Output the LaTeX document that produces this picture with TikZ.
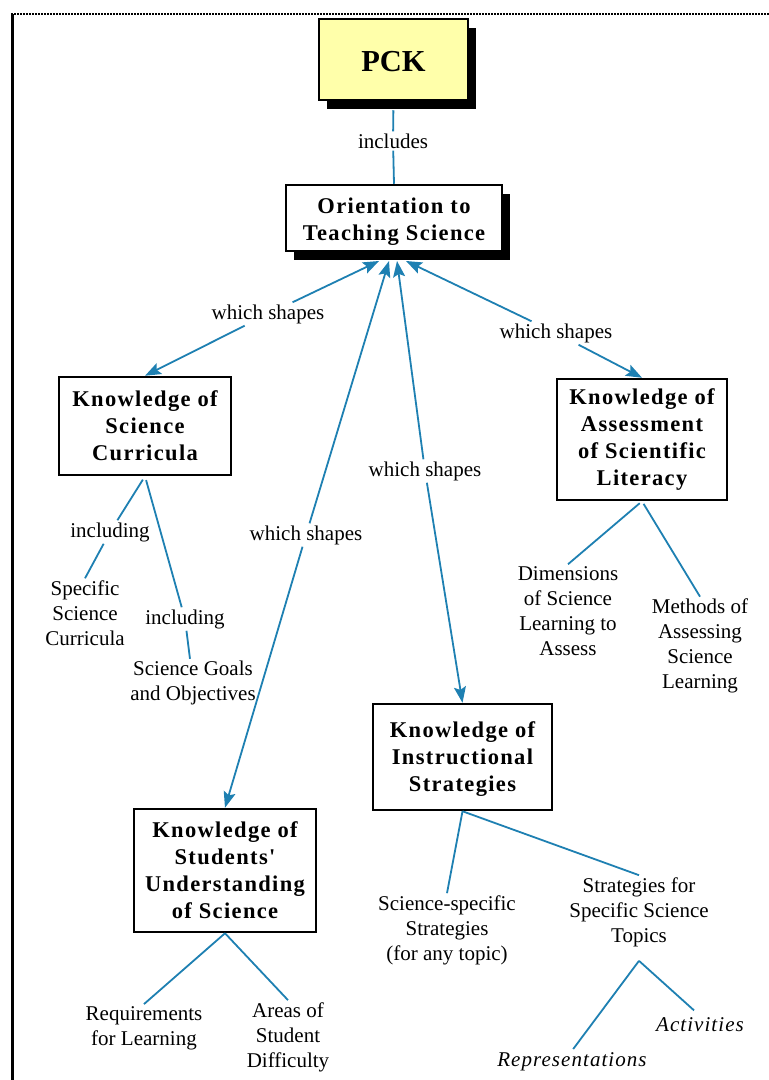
\documentclass[tikz,border=0pt]{standalone}
\usepackage{fontspec}
\setmainfont{Liberation Serif}
\newfontfamily\boxfont[LetterSpace=6]{Liberation Serif}
\newfontfamily\itfont[LetterSpace=5]{Liberation Serif}
\usetikzlibrary{arrows.meta,shadows,calc}
\definecolor{linkblue}{RGB}{30,128,178}
\definecolor{pckyellow}{RGB}{255,255,170}
\tikzset{
  conn/.style={draw=linkblue, line width=1.8pt},
  tip/.style={conn, -{Stealth[length=16pt,width=12pt,inset=3pt]}},
  concept/.style={draw=black, line width=2.5pt, fill=white, align=center, inner sep=0pt,
    font=\boxfont\bfseries\fontsize{22.5}{27}\selectfont},
  shade/.style={drop shadow={shadow xshift=8pt, shadow yshift=-9pt, fill=black, opacity=1}},
  lbl/.style={align=center, inner sep=2pt, font=\fontsize{21}{25}\selectfont},
  itl/.style={align=center, inner sep=2pt, font=\itfont\itshape\fontsize{21}{25}\selectfont}
}
\begin{document}
\begin{tikzpicture}[x=1pt,y=-1pt]
\useasboundingbox (0,0) rectangle (769,1080);
\fill[white] (0,0) rectangle (769,1080);
% frame
\draw[line width=2pt, densely dotted] (11,14) -- (769,14);
\draw[line width=3pt] (12,14) -- (12,1080);

% concepts
\node[concept, fill=pckyellow, minimum width=149pt, minimum height=81pt, shade,
  font=\bfseries\fontsize{30.5}{36}\selectfont] (pck) at (393.5,59.5) {\rule{0pt}{24pt}PCK};
\node[concept, minimum width=216pt, minimum height=66pt, shade] (orient) at (394,218)
  {\rule{0pt}{23pt}Orientation to\\Teaching Science};
\node[concept, minimum width=172pt, minimum height=98pt] (curr) at (145,426)
  {Knowledge of\\Science\\Curricula};
\node[concept, minimum width=170pt, minimum height=121pt] (assess) at (642,439.5)
  {Knowledge of\\Assessment\\of Scientific\\Literacy};
\node[concept, minimum width=182pt, minimum height=123pt] (stud) at (225,870.5)
  {Knowledge of\\Students'\\Understanding\\of Science};
\node[concept, minimum width=179pt, minimum height=106pt] (instr) at (462.5,757)
  {\rule{0pt}{20pt}Knowledge of\\Instructional\\Strategies};

% linking phrases
\node[lbl] (incl) at (393,141) {includes};
\node[lbl] (ws1) at (268,314) {which shapes};
\node[lbl] (ws2) at (556,333) {which shapes};
\node[lbl] (ws3) at (306,535) {which shapes};
\node[lbl] (ws4) at (425,471) {which shapes};
\node[lbl] (inc1) at (110,532) {including};
\node[lbl] (inc2) at (185,619) {including};

% leaf texts
\node[lbl] (spec) at (85,613) {Specific\\Science\\Curricula};
\node[lbl] (goals) at (193,683) {Science Goals\\and Objectives};
\node[lbl] (dims) at (568,611) {Dimensions\\of Science\\Learning to\\Assess};
\node[lbl] (methods) at (700,646) {Methods of\\Assessing\\Science\\Learning};
\node[lbl] (req) at (144,1028) {Requirements\\for Learning};
\node[lbl] (areas) at (288,1037) {Areas of\\Student\\Difficulty};
\node[lbl] (ssci) at (447,930) {Science-specific\\Strategies\\(for any topic)};
\node[lbl] (stopics) at (639,912) {Strategies for\\Specific Science\\Topics};
\node[itl] (repr) at (572,1062) {Representations};
\node[itl] (act) at (700,1025) {Activities};

% convergence points under Orientation, and branch vertex under Topics
\coordinate (o1) at (379,261);
\coordinate (o2) at (389,261);
\coordinate (o3) at (397,261);
\coordinate (o4) at (406,261);
\coordinate (tv) at ($(stopics.south)+(0,12)$);

% connectors
\draw[conn, shorten <=9pt] (pck.south) -- (incl);
\draw[conn] (incl) -- (orient.north);
\draw[tip] (ws1) -- (o1);
\draw[tip] (ws1) -- (curr.north);
\draw[tip] (ws3) -- (o2);
\draw[tip] (ws3) -- (stud.north);
\draw[tip] (ws4) -- (o3);
\draw[tip] (ws4) -- (instr.north);
\draw[tip] (ws2) -- (o4);
\draw[tip] (ws2) -- (assess.north);

\draw[conn, shorten <=4pt] (curr.south) -- (inc1);
\draw[conn] (inc1) -- (spec.north);
\draw[conn, shorten <=4pt] (curr.south) -- (inc2);
\draw[conn] (inc2) -- (goals);
\draw[conn, shorten <=3pt] (assess.south) -- (dims.north);
\draw[conn, shorten <=3pt] (assess.south) -- (methods.north);
\draw[conn] (stud.south) -- (req.north);
\draw[conn] (stud.south) -- (areas.north);
\draw[conn] (instr.south) -- (ssci.north);
\draw[conn] (instr.south) -- (stopics.north);
\draw[conn, shorten >=2pt] (tv) -- (repr.north);
\draw[conn, shorten >=8pt] (tv) -- (act.north);
\end{tikzpicture}
\end{document}
